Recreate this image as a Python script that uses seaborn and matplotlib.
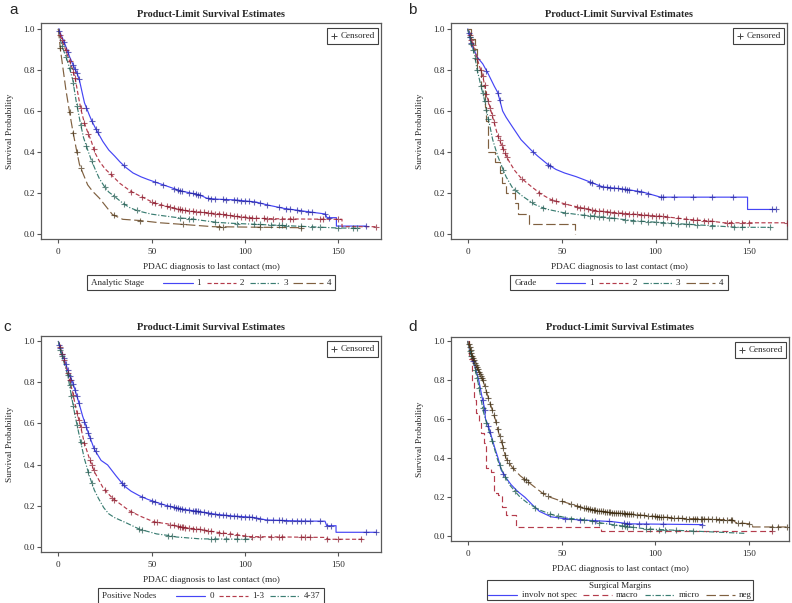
import numpy as np
import matplotlib
matplotlib.use("Agg")
import matplotlib.pyplot as plt
from matplotlib.lines import Line2D
from matplotlib.ticker import FormatStrFormatter
from matplotlib.offsetbox import AnchoredOffsetbox, HPacker, VPacker, TextArea, DrawingArea
import seaborn as sns

# ---- panel a : analytic stage ----
stage_labels = ["1", "2", "3", "4"]
st1_t = [0, 2, 4, 6, 8.6, 10, 11.3, 13, 14, 16.6, 18, 20.3, 23.8, 27, 30.2, 33, 36, 40, 44.3, 48, 53, 60, 65.7, 70.5, 76, 79.5, 85, 94, 104, 106, 112.5, 121, 133, 143, 144, 149, 149, 165]
st1_s = [1.0, 0.96, 0.915, 0.865, 0.81, 0.785, 0.75, 0.68, 0.64, 0.58, 0.55, 0.509, 0.452, 0.41, 0.38, 0.352, 0.326, 0.298, 0.279, 0.266, 0.25, 0.228, 0.21, 0.201, 0.19, 0.175, 0.17, 0.167, 0.158, 0.156, 0.141, 0.125, 0.11, 0.098, 0.08, 0.08, 0.039, 0.039]
st1_c = [0.5, 3, 5, 8, 9, 10, 11, 15, 18, 20, 21, 35, 52, 56, 62, 64, 65, 66, 70, 72, 74, 75, 76, 80, 82, 84, 88, 90, 94, 96, 98, 100, 102, 105, 108, 112, 118, 122, 124, 128, 130, 134, 136, 143, 145, 165]
st2_t = [0, 1, 3, 5, 7, 9, 10.9, 12.2, 14, 16, 17.5, 19.7, 22, 25, 28.7, 33, 38.9, 45.5, 51.4, 58, 65.7, 70.5, 79.5, 88.4, 94, 106, 120, 152, 152, 170]
st2_s = [1.0, 0.97, 0.92, 0.87, 0.82, 0.76, 0.663, 0.604, 0.54, 0.49, 0.457, 0.395, 0.355, 0.318, 0.286, 0.247, 0.208, 0.178, 0.151, 0.135, 0.119, 0.112, 0.104, 0.096, 0.088, 0.077, 0.074, 0.072, 0.036, 0.036]
st2_c = [1, 2, 4, 6, 8, 9, 12, 14, 16, 19, 28, 39, 45, 50, 52, 55, 58, 60, 62, 64, 65, 66, 68, 70, 72, 74, 76, 78, 80, 82, 84, 86, 88, 90, 92, 94, 96, 98, 100, 102, 104, 106, 110, 112, 115, 120, 124, 126, 140, 142, 150, 170]
st3_t = [0, 1.5, 3, 5, 7.7, 9.5, 11.8, 13.5, 15.7, 17.5, 20, 22, 24.6, 27, 30, 34.5, 38, 42.6, 50, 58, 65.7, 70.5, 80, 85, 92, 115, 149, 161.6]
st3_s = [1.0, 0.93, 0.89, 0.84, 0.753, 0.65, 0.541, 0.47, 0.411, 0.365, 0.31, 0.27, 0.233, 0.205, 0.184, 0.151, 0.13, 0.113, 0.097, 0.087, 0.078, 0.075, 0.063, 0.057, 0.053, 0.044, 0.03, 0.028]
st3_c = [2, 4, 6, 8, 10, 12, 15, 18, 25, 30, 35, 42, 65, 70, 72, 84, 96, 105, 108, 114, 118, 120, 122, 130, 136, 140, 150, 158, 160]
st4_t = [0, 1.1, 2.3, 4.1, 5.9, 7.7, 9.5, 11.3, 13, 15.7, 18.4, 22, 25.5, 29, 34.5, 43.8, 54.5, 67, 83, 130]
st4_s = [1.0, 0.9, 0.82, 0.70, 0.60, 0.505, 0.42, 0.34, 0.30, 0.24, 0.208, 0.175, 0.135, 0.095, 0.072, 0.066, 0.055, 0.047, 0.036, 0.031]
st4_c = [1, 6, 8, 10, 12, 30, 44, 67, 86, 88, 108, 130]

# ---- panel b : grade ----
grade_labels = ["1", "2", "3", "4"]
gr1_t = [0, 1, 2.7, 5.3, 8, 10.7, 14.2, 16, 18.6, 20.4, 24, 28.4, 33.7, 37.3, 42.6, 47, 51.5, 57.7, 62, 69, 72, 84.3, 93.2, 102.7, 149, 149, 164]
gr1_s = [1.0, 0.96, 0.91, 0.86, 0.83, 0.785, 0.72, 0.69, 0.60, 0.57, 0.52, 0.46, 0.41, 0.38, 0.34, 0.315, 0.298, 0.28, 0.265, 0.24, 0.23, 0.218, 0.205, 0.18, 0.18, 0.12, 0.12]
gr1_c = [0.5, 1, 2, 10, 16, 17, 35, 43, 44, 65, 66, 70, 72, 74, 76, 78, 80, 82, 84, 85, 86, 90, 92, 96, 103, 104, 110, 120, 130, 141, 162, 164]
gr2_t = [0, 1.8, 2.7, 4.4, 6.2, 8, 9.8, 11.5, 13.3, 16, 18.6, 22, 25, 28.4, 33.7, 39, 44.4, 52.4, 59.5, 68.3, 79, 89.6, 103.9, 117, 129.5, 136.6, 170.5]
gr2_s = [1.0, 0.95, 0.93, 0.873, 0.82, 0.77, 0.69, 0.63, 0.57, 0.48, 0.42, 0.355, 0.31, 0.273, 0.233, 0.195, 0.168, 0.145, 0.13, 0.114, 0.104, 0.096, 0.086, 0.072, 0.063, 0.055, 0.055]
gr2_c = [1, 2, 3, 5, 7, 8, 9, 10, 11, 12, 13, 14, 16, 17, 18, 19, 20, 21, 29, 38, 45, 47, 52, 58, 60, 62, 64, 66, 68, 70, 72, 74, 76, 78, 80, 82, 84, 86, 88, 90, 92, 94, 96, 98, 100, 102, 104, 106, 112, 116, 120, 122, 126, 128, 130, 138, 140, 146, 150, 170]
gr3_t = [0, 1.8, 3.6, 4.8, 7.1, 8.9, 10.3, 11.5, 13.3, 16, 18.6, 20.4, 24, 29.3, 35.5, 41.7, 50.6, 59.5, 70.5, 88.4, 115, 143.8, 161.6]
gr3_s = [1.0, 0.93, 0.88, 0.81, 0.72, 0.655, 0.59, 0.54, 0.46, 0.38, 0.32, 0.28, 0.223, 0.184, 0.145, 0.122, 0.105, 0.094, 0.085, 0.065, 0.049, 0.033, 0.033]
gr3_c = [1, 2, 3, 4, 5, 7, 8, 9, 10, 11, 19, 25, 34, 40, 52, 62, 65, 67, 70, 72, 75, 78, 84, 88, 92, 96, 100, 104, 108, 112, 116, 118, 122, 130, 142, 146, 161]
gr4_t = [0, 2, 4, 5, 7, 9, 10, 10.7, 14.5, 17, 18.5, 20.5, 25, 27, 32.5, 57]
gr4_s = [1.0, 0.95, 0.90, 0.80, 0.72, 0.62, 0.55, 0.40, 0.35, 0.30, 0.25, 0.20, 0.15, 0.10, 0.05, 0.0]
gr4_c = []

# ---- panel c : positive nodes ----
node_labels = ["0", "1-3", "4-37"]
nd0_t = [0, 1.5, 3.2, 5.9, 7.7, 10.4, 13, 16.6, 19.3, 22.9, 26.4, 30.9, 35.4, 39, 43.4, 48, 53.2, 58, 65.7, 76, 85, 94, 104, 111.6, 129.5, 142.9, 143.8, 148.8, 148.8, 170.5]
nd0_s = [1.0, 0.95, 0.912, 0.835, 0.80, 0.72, 0.636, 0.54, 0.474, 0.42, 0.398, 0.345, 0.295, 0.27, 0.248, 0.23, 0.214, 0.2, 0.184, 0.17, 0.157, 0.149, 0.143, 0.13, 0.125, 0.124, 0.102, 0.102, 0.07, 0.07]
nd0_c = [0.5, 1, 2, 3, 4, 5, 6, 7, 8, 9, 10, 11, 14, 15, 16, 17, 19, 20, 34, 35, 45, 50, 52, 55, 58, 60, 62, 63, 64, 65, 66, 68, 70, 72, 73, 74, 75, 76, 78, 80, 82, 84, 86, 88, 90, 92, 94, 96, 98, 100, 102, 104, 106, 108, 112, 115, 118, 120, 122, 125, 128, 130, 132, 135, 140, 144, 146, 165, 170]
nd13_t = [0, 1, 2.3, 5, 7.7, 9.5, 11.8, 13.9, 16.6, 19.3, 21.4, 23.75, 26, 29.1, 33.9, 38, 44, 51.4, 58, 65.7, 76, 85, 94, 102.7, 142.9, 144.6, 163]
nd13_s = [1.0, 0.97, 0.93, 0.847, 0.75, 0.67, 0.59, 0.506, 0.43, 0.365, 0.33, 0.29, 0.265, 0.235, 0.203, 0.175, 0.148, 0.12, 0.112, 0.095, 0.084, 0.07, 0.06, 0.049, 0.045, 0.036, 0.036]
nd13_c = [1, 2, 3, 5, 6, 8, 10, 11, 12, 14, 17, 18, 19, 25, 29, 30, 39, 51, 53, 60, 62, 64, 65, 66, 67, 68, 70, 72, 74, 76, 78, 80, 82, 86, 88, 92, 96, 100, 104, 108, 114, 118, 120, 130, 132, 135, 144, 150, 162]
nd437_t = [0, 1, 2.3, 5, 7.1, 8.9, 11.25, 13.9, 16.6, 19.3, 21.5, 24.3, 27, 30, 36.6, 43.5, 52.7, 58.6, 63.4, 76, 105]
nd437_s = [1.0, 0.96, 0.92, 0.835, 0.73, 0.64, 0.54, 0.43, 0.345, 0.275, 0.235, 0.19, 0.16, 0.142, 0.115, 0.085, 0.062, 0.055, 0.047, 0.038, 0.036]
nd437_c = [1, 2, 5, 6, 7, 8, 10, 12, 16, 18, 43, 45, 59, 61, 82, 84, 90, 96, 100]

# ---- panel d : surgical margins ----
margin_labels = ["involv not spec", "macro", "micro", "neg"]
inv_t = [0, 1, 2.7, 4.5, 5.9, 7.5, 8.9, 9.5, 10.7, 12.4, 14.2, 16.2, 17.8, 20.4, 23.1, 26.6, 30.5, 34.6, 38.2, 44.4, 50.6, 59.5, 68.3, 77.2, 86.1, 125.2]
inv_s = [1.0, 0.96, 0.91, 0.85, 0.80, 0.72, 0.66, 0.6, 0.575, 0.52, 0.46, 0.40, 0.34, 0.30, 0.265, 0.23, 0.20, 0.16, 0.128, 0.10, 0.092, 0.084, 0.08, 0.075, 0.064, 0.06]
inv_c = [3, 8, 9, 11, 12, 19, 52, 60, 68, 75, 83, 85, 86, 91, 95, 104, 125]
mac_t = [0, 0.5, 2.5, 3.6, 4.3, 6, 7, 8.5, 9.8, 12.4, 13.8, 16, 18.3, 20.4, 25.7, 71, 162]
mac_s = [1.0, 0.91, 0.79, 0.70, 0.63, 0.58, 0.53, 0.48, 0.35, 0.33, 0.22, 0.21, 0.15, 0.11, 0.05, 0.029, 0.029]
mac_c = [162]
mic_t = [0, 1, 2.7, 5.3, 8.3, 10.7, 13.3, 16, 18.6, 22.2, 26.6, 28, 32, 38.2, 45.3, 54.1, 63, 71.9, 82.6, 95, 119.8, 148.2]
mic_s = [1.0, 0.95, 0.91, 0.80, 0.64, 0.56, 0.48, 0.39, 0.33, 0.265, 0.215, 0.2, 0.17, 0.135, 0.11, 0.092, 0.084, 0.067, 0.053, 0.038, 0.027, 0.015]
mic_c = [1, 2, 4, 5, 6, 8, 10, 13, 17, 20, 25, 36, 44, 48, 55, 62, 66, 70, 78, 82, 84, 85, 88, 95, 97, 102, 105, 111, 120]
neg_t = [0, 1, 2.7, 5.3, 8.1, 10.7, 13, 14.7, 16.5, 18.5, 20.4, 22.5, 24, 28, 32, 36, 40, 44, 50.6, 59.5, 68.3, 77.2, 86.1, 95, 103.8, 112.7, 130.5, 141, 142.9, 151.5, 151.8, 170.4]
neg_s = [1.0, 0.97, 0.92, 0.86, 0.80, 0.72, 0.65, 0.60, 0.53, 0.47, 0.40, 0.37, 0.35, 0.31, 0.28, 0.25, 0.22, 0.20, 0.178, 0.152, 0.132, 0.121, 0.115, 0.106, 0.099, 0.092, 0.087, 0.084, 0.07, 0.063, 0.048, 0.048]
neg_c = [0.5, 1, 1.5, 2, 2.5, 3, 3.5, 4, 4.5, 5, 5.5, 6, 6.5, 7, 7.5, 8, 9, 10, 11, 12, 13, 14, 15, 16, 17, 18, 19, 20, 21, 22, 24, 30, 31, 32, 40, 43, 50, 55, 58, 60, 62, 63, 64, 65, 66, 67, 68, 69, 70, 71, 72, 73, 74, 75, 76, 77, 78, 79, 80, 81, 82, 83, 84, 85, 86, 87, 88, 90, 92, 94, 96, 98, 100, 101, 102, 103, 104, 106, 108, 110, 112, 114, 116, 118, 120, 121, 122, 124, 125, 126, 128, 130, 132, 134, 136, 138, 140, 141, 144, 146, 150, 162, 165, 170]

# colours / line styles
BLUE, RED, TEAL, BROWN = "#4545f5", "#b43c4c", "#3a7d72", "#7f6040"
BLUE_M, RED_M, TEAL_M, BROWN_M = "#2424a0", "#8a1a2c", "#245a50", "#4a3418"
SOLID = "-"
DASH = (0, (3.5, 2))
DASHDOT = (0, (4.5, 1.5, 1, 1.5))
LONG = (0, (8, 3))
MACRO = (0, (5, 3))
SERIF = ["Liberation Serif", "DejaVu Serif"]

sns.set_theme(style="ticks")
plt.rcParams["font.family"] = SERIF

fig = plt.figure(figsize=(7.92, 6.03), dpi=100)
W, H = 792, 603


def px_axes(x0, y0, x1, y1):
    return fig.add_axes([x0 / W, 1 - y1 / H, (x1 - x0) / W, (y1 - y0) / H])


def km(ax, t, s, cens, color, mcolor, ls, steps=False):
    kw = dict(drawstyle="steps-post") if steps else {}
    sns.lineplot(x=t, y=s, ax=ax, color=color, linestyle=ls, linewidth=0.85,
                 estimator=None, sort=False, **kw)
    if len(cens):
        cy = np.interp(cens, t, s)
        sns.scatterplot(x=cens, y=cy, ax=ax, marker="+", s=24, color=mcolor,
                        linewidth=0.8, alpha=0.7, zorder=3)


def style_ax(ax, xlim, ylim, pad):
    ax.set_xlim(xlim)
    ax.set_ylim(ylim)
    ax.set_xticks([0, 50, 100, 150])
    ax.set_yticks([0, 0.2, 0.4, 0.6, 0.8, 1.0])
    ax.yaxis.set_major_formatter(FormatStrFormatter("%.1f"))
    ax.set_title("Product-Limit Survival Estimates", fontsize=7.4,
                 fontweight="bold", pad=pad)
    ax.set_xlabel("PDAC diagnosis to last contact (mo)", fontsize=6.7, labelpad=5)
    ax.set_ylabel("Survival Probability", fontsize=6.7, labelpad=7)
    ax.tick_params(axis="x", labelsize=6.6, length=3, width=0.8, color="#555555", pad=3.5)
    ax.tick_params(axis="y", labelsize=6.6, length=3, width=0.8, color="#555555", pad=1.5)
    for sp in ax.spines.values():
        sp.set_visible(True)
        sp.set_color("#5a5a5a")
        sp.set_linewidth(0.9)
    # censored key
    da = DrawingArea(7, 7, 0, 0)
    da.add_artist(Line2D([3.5], [3.5], marker="+", ms=4.5, mew=0.7, color="#444444"))
    key = HPacker(children=[da, TextArea("Censored", textprops=dict(fontsize=6.5, family=SERIF))],
                  sep=1, align="center")
    box = AnchoredOffsetbox(loc="upper right", child=key, pad=0.2, borderpad=0,
                            frameon=True, bbox_to_anchor=(1 - 3 / 340, 1 - 5 / 216),
                            bbox_transform=ax.transAxes)
    box.patch.set_boxstyle("square", pad=0)
    box.patch.set_edgecolor("#404040")
    box.patch.set_linewidth(0.8)
    ax.add_artist(box)


def entry(label, color, ls):
    da = DrawingArea(21, 6, 0, 0)
    da.add_artist(Line2D([0, 21], [3, 3], color=color, linestyle=ls, linewidth=0.85))
    return HPacker(children=[da, TextArea(label, textprops=dict(fontsize=6.5, family=SERIF))],
                   sep=3, align="center")


def key_box(ax, title, labels, colors, styles, yc, inline=True):
    items = [entry(l, c, s) for l, c, s in zip(labels, colors, styles)]
    ttl = TextArea(title, textprops=dict(fontsize=6.5, family=SERIF))
    if inline:
        child = HPacker(children=[ttl, DrawingArea(6, 1, 0, 0)] + items, sep=4, align="center")
        pad = 0.25
    else:
        row = HPacker(children=items, sep=4.5, align="center")
        child = VPacker(children=[ttl, row], sep=0.5, align="center")
        pad = 0.1
    box = AnchoredOffsetbox(loc="center", child=child, pad=pad, borderpad=0,
                            frameon=True, bbox_to_anchor=(0.5, yc),
                            bbox_transform=ax.transAxes)
    box.patch.set_boxstyle("square", pad=0)
    box.patch.set_edgecolor("#404040")
    box.patch.set_linewidth(0.8)
    ax.add_artist(box)


cols4 = [BLUE, RED, TEAL, BROWN]
styles4 = [SOLID, DASH, DASHDOT, LONG]

# panel a
ax_a = px_axes(41, 23, 381, 239)
km(ax_a, st1_t, st1_s, st1_c, BLUE, BLUE_M, SOLID)
km(ax_a, st2_t, st2_s, st2_c, RED, RED_M, DASH)
km(ax_a, st3_t, st3_s, st3_c, TEAL, TEAL_M, DASHDOT)
km(ax_a, st4_t, st4_s, st4_c, BROWN, BROWN_M, LONG)
style_ax(ax_a, (-9.3, 172.9), (-0.024, 1.029), 4.5)
key_box(ax_a, "Analytic Stage", stage_labels, cols4, styles4, -0.2014)

# panel b
ax_b = px_axes(451, 23, 787, 239)
km(ax_b, gr1_t, gr1_s, gr1_c, BLUE, BLUE_M, SOLID)
km(ax_b, gr2_t, gr2_s, gr2_c, RED, RED_M, DASH)
km(ax_b, gr3_t, gr3_s, gr3_c, TEAL, TEAL_M, DASHDOT)
km(ax_b, gr4_t, gr4_s, gr4_c, BROWN, BROWN_M, LONG, steps=True)
style_ax(ax_b, (-8.9, 170.0), (-0.024, 1.029), 4.5)
key_box(ax_b, "Grade", grade_labels, cols4, styles4, -0.2014)

# panel c
ax_c = px_axes(41, 336, 381, 552)
km(ax_c, nd0_t, nd0_s, nd0_c, BLUE, BLUE_M, SOLID)
km(ax_c, nd13_t, nd13_s, nd13_c, RED, RED_M, DASH)
km(ax_c, nd437_t, nd437_s, nd437_c, TEAL, TEAL_M, DASHDOT)
style_ax(ax_c, (-9.3, 172.9), (-0.026, 1.026), 4.5)
key_box(ax_c, "Positive Nodes", node_labels, cols4[:3], styles4[:3], -0.2028)

# panel d
ax_d = px_axes(451, 337, 789, 541)
km(ax_d, inv_t, inv_s, inv_c, BLUE, BLUE_M, SOLID)
km(ax_d, mac_t, mac_s, mac_c, RED, RED_M, MACRO, steps=True)
km(ax_d, mic_t, mic_s, mic_c, TEAL, TEAL_M, DASHDOT)
km(ax_d, neg_t, neg_s, neg_c, BROWN, "#3a2a10", LONG)
style_ax(ax_d, (-8.9, 171.1), (-0.024, 1.022), 5.2)
key_box(ax_d, "Surgical Margins", margin_labels, cols4,
        [SOLID, MACRO, DASHDOT, LONG], -0.2417, inline=False)

# panel letters
for x, y, s in [(9, 13.5, "a"), (408, 13.5, "b"), (3, 331, "c"), (408, 331, "d")]:
    fig.text(x / W, 1 - y / H, s, fontsize=11, family=["Liberation Sans", "DejaVu Sans"],
             va="baseline", ha="left")

fig.savefig("out.png", dpi=100)
